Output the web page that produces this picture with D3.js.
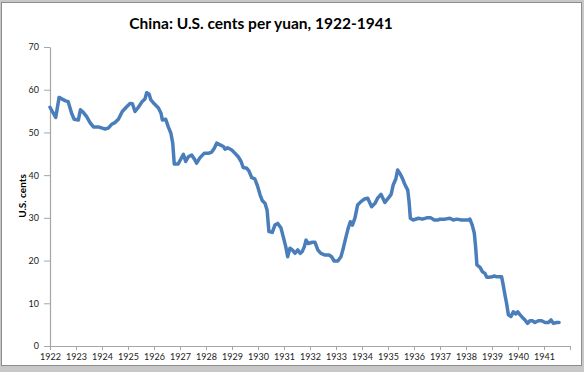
<!DOCTYPE html>
<html>
<head>
<meta charset="utf-8">
<script src="https://cdn.jsdelivr.net/npm/d3@7"></script>
<style>
  body { margin: 0; padding: 0; background: #c8c8c8; }
  svg { display: block; }
</style>
</head>
<body onload="onload()">
<svg id="chart"></svg>
<script>
// position of each reading, in decimal years (monthly series)
var yearPos = [
  1922.00, 1922.09, 1922.22, 1922.35, 1922.47, 1922.60, 1922.70, 1922.83, 1922.93,
  1923.09, 1923.17, 1923.28, 1923.41, 1923.54, 1923.67, 1923.86,
  1924.01, 1924.12, 1924.24, 1924.37, 1924.50, 1924.63, 1924.78, 1924.95,
  1925.08, 1925.17, 1925.27, 1925.40, 1925.53, 1925.65, 1925.72, 1925.81, 1925.88,
  1926.01, 1926.17, 1926.27, 1926.32, 1926.45, 1926.55, 1926.65, 1926.72, 1926.78, 1926.93,
  1927.13, 1927.22, 1927.32, 1927.45, 1927.55, 1927.64, 1927.77, 1927.93,
  1928.09, 1928.22, 1928.32, 1928.41, 1928.54, 1928.67, 1928.73, 1928.83, 1928.99,
  1929.12, 1929.24, 1929.35, 1929.43, 1929.57, 1929.65, 1929.76, 1929.88, 1929.99,
  1930.08, 1930.17, 1930.27, 1930.35, 1930.42, 1930.55, 1930.65, 1930.76, 1930.88, 1930.97,
  1931.07, 1931.14, 1931.23, 1931.32, 1931.42, 1931.53, 1931.62, 1931.70, 1931.78, 1931.85, 1931.93,
  1932.09, 1932.19, 1932.30, 1932.42, 1932.58, 1932.73, 1932.83, 1932.93,
  1933.07, 1933.19, 1933.28, 1933.37, 1933.47, 1933.55, 1933.63, 1933.73, 1933.83, 1933.96,
  1934.09, 1934.22, 1934.37, 1934.50, 1934.60, 1934.73, 1934.88,
  1935.01, 1935.12, 1935.20, 1935.30, 1935.37, 1935.46, 1935.55, 1935.63, 1935.69, 1935.76,
  1935.81, 1935.86, 1935.97,
  1936.17, 1936.32, 1936.49, 1936.65, 1936.78, 1936.93,
  1937.00, 1937.19, 1937.38, 1937.51, 1937.64, 1937.83,
  1938.09, 1938.15, 1938.24, 1938.32, 1938.37, 1938.42, 1938.54, 1938.63, 1938.73, 1938.80, 1938.88,
  1939.01, 1939.09, 1939.18, 1939.37, 1939.43, 1939.50, 1939.56, 1939.63, 1939.73, 1939.82, 1939.91, 1939.99,
  1940.08, 1940.17, 1940.27, 1940.37, 1940.46, 1940.55, 1940.65, 1940.78, 1940.91,
  1941.04, 1941.17, 1941.27, 1941.36, 1941.49, 1941.58
];

// U.S. cents per yuan
var cents = [
  55.9, 54.9, 53.5, 58.2, 57.8, 57.4, 57.2, 54.5, 53.1,
  52.9, 55.3, 54.7, 53.7, 52.3, 51.3, 51.3,
  51.0, 50.8, 51.0, 51.9, 52.3, 53.1, 54.9, 56.0,
  56.8, 56.7, 54.9, 55.9, 57.1, 57.8, 59.3, 59.0, 57.6,
  56.7, 55.7, 54.5, 52.9, 53.1, 51.3, 49.8, 47.5, 42.6, 42.6,
  44.9, 43.2, 44.3, 44.7, 43.8, 42.8, 44.1, 45.1,
  45.1, 45.4, 46.3, 47.5, 47.1, 46.7, 46.1, 46.4, 45.9,
  45.1, 44.3, 43.2, 41.8, 41.6, 41.0, 39.4, 39.1, 37.3,
  35.4, 34.0, 33.4, 31.8, 26.8, 26.6, 28.3, 28.7, 27.7, 25.6,
  23.2, 20.9, 22.9, 22.5, 21.7, 22.5, 21.7, 22.1, 23.2, 24.8, 24.0,
  24.3, 24.3, 22.5, 21.7, 21.3, 21.3, 20.9, 19.9,
  19.9, 20.9, 22.9, 25.2, 27.6, 29.1, 28.3, 30.0, 33.0, 33.8,
  34.4, 34.6, 32.6, 33.4, 34.6, 35.5, 33.6,
  34.6, 35.5, 37.7, 39.1, 41.2, 40.4, 39.3, 38.1, 37.3, 36.5,
  33.8, 29.9, 29.5,
  29.9, 29.7, 30.0, 30.0, 29.5, 29.5,
  29.7, 29.7, 29.9, 29.5, 29.7, 29.5,
  29.5, 29.7, 28.3, 26.4, 23.2, 19.0, 18.4, 17.4, 17.0, 16.1, 16.1,
  16.2, 16.4, 16.2, 16.2, 14.3, 11.9, 10.0, 7.3, 6.9, 8.0, 7.5, 8.0,
  7.3, 6.7, 6.1, 5.3, 5.9, 5.9, 5.5, 5.9, 5.9,
  5.5, 5.5, 6.1, 5.3, 5.5, 5.5
];

// axis tick labels
var yearTicks = [1922, 1923, 1924, 1925, 1926, 1927, 1928, 1929, 1930, 1931,
                 1932, 1933, 1934, 1935, 1936, 1937, 1938, 1939, 1940, 1941];
var centTicks = [0, 10, 20, 30, 40, 50, 60, 70];

var chartTitle = "China: U.S. cents per yuan, 1922-1941";
var yAxisTitle = "U.S. cents";

var vis = { width: 584, height: 372 };

/*
  NAME: onload
  DESCRIPTION: builds the frame, axes and line
*/
function onload() {
  var svg = d3.select("#chart")
    .attr("width", vis.width)
    .attr("height", vis.height);

  // grey surround + white chart area
  svg.append("rect")
    .attr("x", 0).attr("y", 0)
    .attr("width", vis.width).attr("height", vis.height)
    .attr("fill", "#c8c8c8");

  svg.append("rect")
    .attr("x", 1.5).attr("y", 2.5)
    .attr("width", 580).attr("height", 363)
    .attr("fill", "#ffffff")
    .attr("stroke", "#8c8c8c")
    .attr("stroke-width", 1);

  var x = d3.scaleLinear().domain([1922, 1942]).range([50, 570]);
  var y = d3.scaleLinear().domain([0, 70]).range([346, 47]);

  drawAxes(svg, x, y);
  drawLine(svg, x, y);

  // title
  svg.append("text")
    .attr("x", 261)
    .attr("y", 29)
    .attr("text-anchor", "middle")
    .style("font-family", "Lato, 'Open Sans', sans-serif")
    .style("font-weight", "bold")
    .style("font-size", "15.5px")
    .style("fill", "#000")
    .text(chartTitle);

  // y axis title
  svg.append("text")
    .attr("transform", "translate(22,196) rotate(-90)")
    .attr("text-anchor", "middle")
    .attr("dominant-baseline", "central")
    .style("font-family", "Lato, 'Open Sans', sans-serif")
    .style("font-weight", "bold")
    .style("font-size", "10px")
    .style("fill", "#000")
    .text(yAxisTitle);

  return;
} // end function onload

/*
  NAME: drawAxes
  DESCRIPTION: grey excel-style axes with outward ticks
*/
function drawAxes(svg, x, y) {
  var xAxis = d3.axisBottom(x)
    .tickValues(yearTicks.concat([1942]))
    .tickFormat(function (d) { return d == 1942 ? "" : d; })
    .tickSizeInner(4)
    .tickSizeOuter(0)
    .tickPadding(4);

  var yAxis = d3.axisLeft(y)
    .tickValues(centTicks)
    .tickSizeInner(6)
    .tickSizeOuter(0)
    .tickPadding(5);

  var gx = svg.append("g")
    .attr("class", "x-axis")
    .attr("transform", "translate(0,346)")
    .call(xAxis);

  var gy = svg.append("g")
    .attr("class", "y-axis")
    .attr("transform", "translate(50,0)")
    .call(yAxis);

  [gx, gy].forEach(function (g) {
    g.select(".domain").attr("stroke", "#a6a6a6").attr("stroke-width", 1.2);
    g.selectAll(".tick line").attr("stroke", "#a6a6a6").attr("stroke-width", 1);
    g.selectAll(".tick text")
      .style("font-family", "Lato, 'Open Sans', sans-serif")
      .style("font-size", "9px")
      .style("fill", "#1a1a1a");
  });

  return;
} // end function drawAxes

/*
  NAME: drawLine
  DESCRIPTION: the single blue series
*/
function drawLine(svg, x, y) {
  var pts = yearPos.map(function (d, i) { return [d, cents[i]]; });

  var line = d3.line()
    .x(function (d) { return x(d[0]); })
    .y(function (d) { return y(d[1]); });

  svg.append("path")
    .datum(pts)
    .attr("d", line)
    .attr("fill", "none")
    .attr("stroke", "#4a7ebb")
    .attr("stroke-width", 3.5)
    .attr("stroke-linejoin", "round")
    .attr("stroke-linecap", "round");

  return;
} // end function drawLine
</script>
</body>
</html>
